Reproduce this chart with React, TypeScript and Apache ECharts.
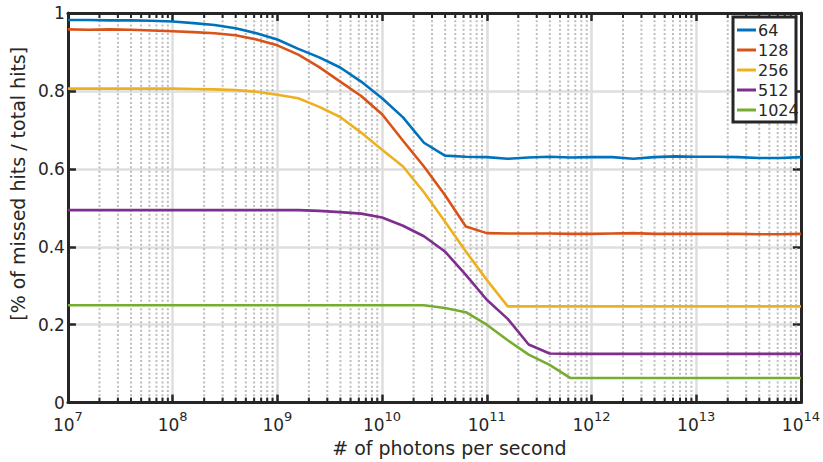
import React, { useEffect, useRef } from "react";
import * as echarts from "echarts";

// log10 of photons per second at each sample
const exponents = [
  7.0, 7.2, 7.4, 7.6, 7.8, 8.0, 8.2, 8.4, 8.6, 8.8,
  9.0, 9.2, 9.4, 9.6, 9.8, 10.0, 10.2, 10.4, 10.6, 10.8,
  11.0, 11.2, 11.4, 11.6, 11.8, 12.0, 12.2, 12.4, 12.6, 12.8,
  13.0, 13.2, 13.4, 13.6, 13.8, 14.0,
];

const seriesNames = ["64", "128", "256", "512", "1024"];
const seriesColors = ["#0072BD", "#D95319", "#EDB120", "#7E2F8E", "#77AC30"];

const missed64 = [
  0.982, 0.982, 0.981, 0.981, 0.980, 0.978, 0.974, 0.969, 0.961, 0.948,
  0.932, 0.908, 0.886, 0.860, 0.824, 0.781, 0.732, 0.667, 0.634, 0.631,
  0.630, 0.626, 0.629, 0.631, 0.629, 0.630, 0.630, 0.626, 0.630, 0.632,
  0.631, 0.631, 0.630, 0.628, 0.628, 0.630,
];
const missed128 = [
  0.958, 0.957, 0.958, 0.957, 0.955, 0.953, 0.951, 0.948, 0.943, 0.932,
  0.917, 0.893, 0.861, 0.824, 0.787, 0.740, 0.672, 0.606, 0.533, 0.452,
  0.435, 0.434, 0.434, 0.434, 0.433, 0.433, 0.434, 0.435, 0.433, 0.433,
  0.433, 0.433, 0.433, 0.432, 0.432, 0.433,
];
const missed256 = [
  0.806, 0.806, 0.806, 0.806, 0.806, 0.806, 0.805, 0.804, 0.802, 0.798,
  0.790, 0.781, 0.759, 0.733, 0.693, 0.649, 0.606, 0.540, 0.465, 0.388,
  0.315, 0.247, 0.247, 0.247, 0.247, 0.247, 0.247, 0.247, 0.247, 0.247,
  0.247, 0.247, 0.247, 0.247, 0.247, 0.247,
];
const missed512 = [
  0.494, 0.494, 0.494, 0.494, 0.494, 0.494, 0.494, 0.494, 0.494, 0.494,
  0.494, 0.494, 0.492, 0.489, 0.485, 0.475, 0.454, 0.427, 0.388, 0.328,
  0.264, 0.215, 0.149, 0.126, 0.125, 0.125, 0.125, 0.125, 0.125, 0.125,
  0.125, 0.125, 0.125, 0.125, 0.125, 0.125,
];
const missed1024 = [
  0.250, 0.250, 0.250, 0.250, 0.250, 0.250, 0.250, 0.250, 0.250, 0.250,
  0.250, 0.250, 0.250, 0.250, 0.250, 0.250, 0.250, 0.250, 0.243, 0.232,
  0.200, 0.160, 0.123, 0.097, 0.063, 0.063, 0.063, 0.063, 0.063, 0.063,
  0.063, 0.063, 0.063, 0.063, 0.063, 0.063,
];

const decadeExponents = [7, 8, 9, 10, 11, 12, 13];
const minorMantissas = [2, 3, 4, 5, 6, 7, 8, 9];
const xMin = 1e7;
const xMax = 1e14;
const yMin = 0;
const yMax = 1;
const yStep = 0.2;

const xTitle = "# of photons per second";
const yTitle = "[% of missed hits / total hits]";

const FONT = "DejaVu Sans";
const INK = "#262626";

export default function App() {
  const ref = useRef<HTMLDivElement>(null);

  useEffect(() => {
    if (!ref.current) return;
    const chart = echarts.init(ref.current, null, { renderer: "svg" });
    const photons = exponents.map((e) => Math.pow(10, e));
    const allValues = [missed64, missed128, missed256, missed512, missed1024];
    const minorValues: number[] = [];
    decadeExponents.forEach((d) =>
      minorMantissas.forEach((m) => minorValues.push(m * Math.pow(10, d)))
    );

    const lineSeries = seriesNames.map((name, i) => ({
      name,
      type: "line",
      xAxisIndex: 0,
      yAxisIndex: 0,
      data: photons.map((p, j) => [p, allValues[i][j]]),
      showSymbol: false,
      symbol: "none",
      z: 3,
      lineStyle: { color: seriesColors[i], width: 2.6 },
      itemStyle: { color: seriesColors[i] },
    }));

    const minorSeries = {
      type: "custom",
      xAxisIndex: 0,
      yAxisIndex: 0,
      silent: true,
      z: 1,
      clip: false,
      data: minorValues.map((v) => [v, yMin]),
      renderItem: (params: any, api: any) => {
        const x = api.value(0);
        const b = api.coord([x, yMin]);
        const t = api.coord([x, yMax]);
        return {
          type: "group",
          children: [
            {
              type: "line",
              shape: { x1: b[0], y1: b[1] - 2, x2: t[0], y2: t[1] + 2 },
              style: { stroke: "#bdbdbd", lineWidth: 2, lineDash: [2, 2.3] },
            },
            {
              type: "line",
              shape: { x1: b[0], y1: b[1], x2: b[0], y2: b[1] - 5 },
              style: { stroke: INK, lineWidth: 2 },
            },
            {
              type: "line",
              shape: { x1: t[0], y1: t[1], x2: t[0], y2: t[1] + 5 },
              style: { stroke: INK, lineWidth: 2 },
            },
          ],
        };
      },
    };

    chart.setOption({
      animation: false,
      backgroundColor: "#ffffff",
      textStyle: { fontFamily: FONT, color: INK },
      grid: { left: 61, top: 13, width: 740, height: 390, containLabel: false },
      legend: {
        data: seriesNames,
        orient: "vertical",
        left: 737,
        top: 20,
        padding: 0,
        itemGap: 0,
        itemWidth: 19,
        itemHeight: 3,
        icon: "rect",
        z: 5,
        textStyle: { fontFamily: FONT, fontSize: 16, color: INK, lineHeight: 20, padding: [0, 0, 0, -3] },
      },
      graphic: [
        {
          type: "rect",
          z: 4,
          shape: { x: 733, y: 17, width: 63, height: 105 },
          style: { fill: "#ffffff", stroke: "none" },
        },
        {
          type: "rect",
          z: 6,
          shape: { x: 733, y: 17, width: 63, height: 105 },
          style: { fill: "transparent", stroke: INK, lineWidth: 3 },
        },
      ],
      xAxis: [
        {
          type: "log",
          logBase: 10,
          min: xMin,
          max: xMax,
          splitNumber: 7,
          position: "bottom",
          name: xTitle,
          nameLocation: "middle",
          nameGap: 35,
          nameTextStyle: { fontFamily: FONT, fontSize: 19, color: INK, padding: [0, 0, 0, 30] },
          axisLine: { show: true, onZero: false, lineStyle: { color: INK, width: 3 } },
          axisTick: { show: true, inside: true, length: 8, lineStyle: { color: INK, width: 2.5 } },
          minorTick: { show: false },
          splitLine: { show: true, lineStyle: { color: "#dedede", width: 2.5 } },
          axisLabel: {
            margin: 7,
            formatter: (v: number) => `{b|10}{s|${Math.round(Math.log10(v))}}`,
            rich: {
              b: { fontFamily: FONT, fontSize: 17, color: INK, lineHeight: 30 },
              s: { fontFamily: FONT, fontSize: 13, color: INK, lineHeight: 14, verticalAlign: "top" },
            },
          },
        },
        {
          type: "log",
          logBase: 10,
          min: xMin,
          max: xMax,
          splitNumber: 7,
          position: "top",
          axisLine: { show: true, onZero: false, lineStyle: { color: INK, width: 3 } },
          axisTick: { show: true, inside: true, length: 8, lineStyle: { color: INK, width: 2.5 } },
          axisLabel: { show: false },
          splitLine: { show: false },
        },
      ],
      yAxis: [
        {
          type: "value",
          min: yMin,
          max: yMax,
          interval: yStep,
          position: "left",
          name: yTitle,
          nameLocation: "middle",
          nameGap: 31,
          nameTextStyle: { fontFamily: FONT, fontSize: 19, color: INK, padding: [0, 0, 0, 48] },
          axisLine: { show: true, onZero: false, lineStyle: { color: INK, width: 3 } },
          axisTick: { show: true, inside: true, length: 8, lineStyle: { color: INK, width: 2.5 } },
          splitLine: { show: true, lineStyle: { color: "#dedede", width: 2.5 } },
          axisLabel: { margin: 3, fontFamily: FONT, fontSize: 17, color: INK },
        },
        {
          type: "value",
          min: yMin,
          max: yMax,
          interval: yStep,
          position: "right",
          axisLine: { show: true, onZero: false, lineStyle: { color: INK, width: 3 } },
          axisTick: { show: true, inside: true, length: 8, lineStyle: { color: INK, width: 2.5 } },
          splitLine: { show: false },
          axisLabel: { show: false },
        },
      ],
      series: [minorSeries, ...lineSeries],
    });

    return () => chart.dispose();
  }, []);

  return (
    <div
      ref={ref}
      style={{ position: "fixed", left: 0, top: 0, width: 823, height: 462, background: "#fff" }}
    />
  );
}
